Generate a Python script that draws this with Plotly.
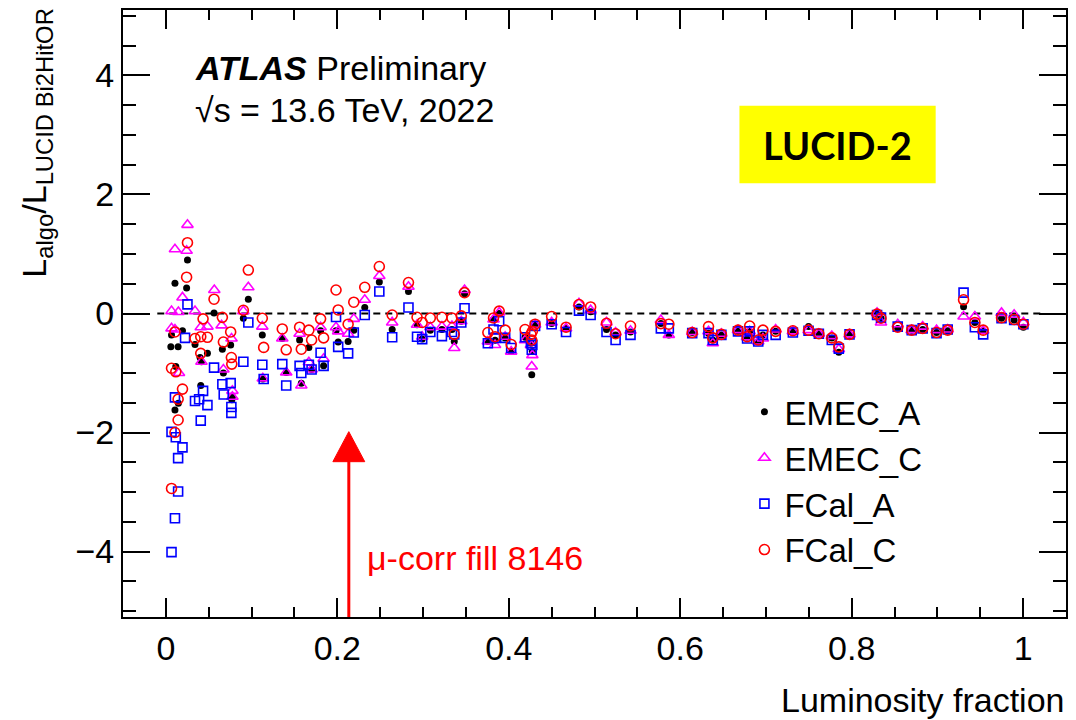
import plotly.graph_objects as go

# ---------------- data ----------------
# early part (luminosity fraction < 0.12), read per series
emec_a_x_low = [0.0252, 0.0106, 0.0242, 0.0066, 0.0058, 0.0143, 0.0194, 0.0340, 0.0485, 0.0399, 0.0562, 0.0659,
                0.0756, 0.0904, 0.0962, 0.1125, 0.0116, 0.0407, 0.0146, 0.0106, 0.0769, 0.0671, 0.0776, 0.1131, 0.0415]
emec_a_y_low = [0.90, 0.51, 0.43, -0.36, -0.56, -0.56, -0.29, -0.52, -0.67, -0.74, 0.01, -0.60,
                -0.53, -0.08, 0.24, -0.36, -0.89, -1.21, -1.51, -1.62, -1.45, -1.00, -1.40, -1.10, -0.81]

emec_c_x_low = [0.0252, 0.0106, 0.0242, 0.0194, 0.0066, 0.0146, 0.0340, 0.0066, 0.0106, 0.0407, 0.0485, 0.0565,
                0.0650, 0.0766, 0.0962, 0.0904, 0.1125, 0.0415, 0.0671, 0.0153, 0.0776, 0.0776, 0.1131]
emec_c_y_low = [1.49, 1.08, 1.055, 0.27, 0.04, 0.025, 0.04, -0.25, -0.27, -0.23, -0.22, 0.395,
                -0.20, -0.42, 0.44, 0.04, -0.22, -0.81, -0.94, -1.00, -1.30, -1.40, -1.09]

fcal_a_x_low = [0.0252, 0.0224, 0.0106, 0.0340, 0.0388, 0.0434, 0.0485, 0.0407, 0.0562, 0.0659, 0.0756, 0.0675,
                0.0764, 0.0764, 0.0904, 0.0962, 0.1125, 0.1141, 0.0066, 0.0116, 0.0194, 0.0143, 0.0143, 0.0106, 0.0066]
fcal_a_y_low = [0.154, -0.41, -1.41, -1.47, -1.44, -1.30, -1.54, -1.80, -0.91, -1.19, -1.17, -1.36,
                -1.57, -1.67, -0.81, -0.15, -0.86, -1.10, -1.99, -2.08, -2.25, -2.43, -2.99, -3.44, -4.01]

fcal_c_x_low = [0.0252, 0.0242, 0.0106, 0.0066, 0.0116, 0.0194, 0.0143, 0.0143, 0.0106, 0.0066, 0.0340, 0.0407,
                0.0485, 0.0434, 0.0562, 0.0659, 0.0671, 0.0756, 0.0764, 0.0769, 0.0407, 0.0962, 0.0904, 0.1125, 0.1141]
fcal_c_y_low = [1.19, 0.61, -0.31, -0.92, -0.98, -1.27, -1.44, -1.79, -2.00, -2.94, -0.42, -0.39,
                -0.40, -0.09, 0.24, -0.065, -0.48, -0.31, -0.74, -0.85, -0.67, 0.73, 0.055, -0.08, -0.57]

# later runs (shared luminosity fraction per run)
run_x = [0.1358, 0.1404, 0.1560, 0.1580, 0.1668, 0.1700, 0.1805, 0.1840, 0.1985, 0.2010,
         0.2126, 0.2192, 0.2320, 0.2490, 0.2640, 0.2830, 0.2930, 0.2990, 0.3085, 0.3220,
         0.3337, 0.3364, 0.3446, 0.3484, 0.3756, 0.3822, 0.3840, 0.3888, 0.3958, 0.4028,
         0.4190, 0.4258, 0.4268, 0.4275, 0.4307, 0.4500, 0.4668, 0.4819, 0.4955, 0.5140,
         0.5246, 0.5420, 0.5774, 0.5867, 0.6140, 0.6330, 0.6380, 0.6480, 0.6674, 0.6780,
         0.6810, 0.6910, 0.6965, 0.7113, 0.7314, 0.7497, 0.7617, 0.7768, 0.7850, 0.7975,
         0.8296, 0.8342, 0.8537, 0.8700, 0.8828, 0.8990, 0.9120, 0.9305, 0.9437, 0.9534,
         0.9748, 0.9895, 1.0003]
emec_a_run = [-0.42, -0.99, -0.445, -1.17, -0.57, -0.94, -0.29, -0.88, -0.29, -0.48,
              -0.47, -0.28, 0.10, 0.53, -0.27, 0.37, -0.19, -0.43, -0.28, -0.27,
              -0.27, -0.47, -0.13, 0.33, -0.47, -0.10, -0.45, 0.00, -0.41, -0.64,
              -0.40, -0.50, -1.03, -0.64, -0.19, -0.17, -0.25, 0.11, 0.028, -0.27,
              -0.36, -0.31, -0.17, -0.36, -0.32, -0.33, -0.445, -0.36, -0.30, -0.40,
              -0.30, -0.47, -0.36, -0.30, -0.30, -0.22, -0.34, -0.41, -0.65, -0.35,
              -0.01, -0.08, -0.25, -0.28, -0.27, -0.32, -0.29, 0.115, -0.15, -0.29,
              -0.08, -0.11, -0.23]
emec_c_run = [-0.42, -0.99, -0.34, -1.21, -0.82, -0.94, -0.23, -0.76, -0.23, -0.30,
              -0.34, -0.09, 0.23, 0.63, -0.15, 0.45, -0.19, -0.39, -0.23, -0.22,
              -0.21, -0.58, -0.13, 0.395, -0.47, -0.10, -0.53, 0.016, -0.39, -0.64,
              -0.45, -0.53, -0.89, -0.70, -0.19, -0.15, -0.25, 0.17, 0.056, -0.15,
              -0.32, -0.29, -0.11, -0.36, -0.31, -0.30, -0.50, -0.34, -0.28, -0.40,
              -0.30, -0.47, -0.42, -0.27, -0.30, -0.28, -0.34, -0.38, -0.60, -0.35,
              0.01, -0.15, -0.18, -0.28, -0.22, -0.28, -0.27, -0.05, -0.05, -0.29,
              0.01, -0.02, -0.15]
fcal_a_run = [-0.85, -1.21, -0.88, -1.00, -0.86, -0.94, -0.66, -0.88, -0.06, -0.56,
              -0.67, -0.32, -0.025, 0.37, -0.40, 0.10, -0.39, -0.43, -0.31, -0.38,
              -0.31, -0.35, -0.15, 0.087, -0.50, -0.27, -0.41, -0.13, -0.41, -0.58,
              -0.40, -0.50, -0.61, -0.53, -0.21, -0.18, -0.31, 0.048, -0.026, -0.31,
              -0.445, -0.36, -0.25, -0.25, -0.33, -0.33, -0.445, -0.36, -0.30, -0.42,
              -0.30, -0.47, -0.36, -0.36, -0.32, -0.29, -0.34, -0.445, -0.59, -0.35,
              -0.025, -0.07, -0.22, -0.28, -0.25, -0.33, -0.27, 0.35, -0.23, -0.35,
              -0.08, -0.11, -0.18]
fcal_c_run = [-0.26, -0.61, -0.23, -0.60, -0.28, -0.445, -0.09, -0.41, 0.395, 0.06,
              -0.18, 0.19, 0.44, 0.79, -0.025, 0.52, -0.064, -0.15, -0.075, -0.064,
              -0.075, -0.35, -0.04, 0.35, -0.32, -0.075, -0.39, 0.04, -0.28, -0.52,
              -0.27, -0.35, -0.445, -0.30, -0.18, -0.05, -0.23, 0.15, 0.11, -0.165,
              -0.34, -0.21, -0.17, -0.18, -0.32, -0.22, -0.41, -0.35, -0.28, -0.39,
              -0.21, -0.445, -0.28, -0.30, -0.29, -0.28, -0.34, -0.41, -0.56, -0.35,
              -0.01, -0.08, -0.23, -0.28, -0.25, -0.32, -0.28, 0.23, -0.15, -0.28,
              -0.07, -0.10, -0.18]

series_names = ["EMEC_A", "EMEC_C", "FCal_A", "FCal_C"]
x_ticks = [0, 0.2, 0.4, 0.6, 0.8, 1]
y_ticks = [-4, -2, 0, 2, 4]

# ---------------- figure ----------------
FONT = "Liberation Sans, Arial, Helvetica, sans-serif"
fig = go.Figure()

styles = [
    dict(symbol="circle", size=7, color="black", line=dict(width=0)),
    dict(symbol="triangle-up-open", size=10, color="#ff00ff", line=dict(width=1.6)),
    dict(symbol="square-open", size=9, color="#0000ff", line=dict(width=1.6)),
    dict(symbol="circle-open", size=10, color="#ff0000", line=dict(width=1.6)),
]
xs = [emec_a_x_low + run_x, emec_c_x_low + run_x, fcal_a_x_low + run_x, fcal_c_x_low + run_x]
ys = [emec_a_y_low + emec_a_run, emec_c_y_low + emec_c_run, fcal_a_y_low + fcal_a_run, fcal_c_y_low + fcal_c_run]

for name, st, x, y in zip(series_names, styles, xs, ys):
    fig.add_trace(go.Scatter(x=x, y=y, mode="markers", name=name, marker=st, cliponaxis=True))

# reference dashed line at 0
fig.add_shape(type="line", xref="x", yref="y", x0=-0.01, x1=1.025, y0=0, y1=0,
              line=dict(color="black", width=2, dash="7px,5px"), layer="below")

# arrow for mu-correction fill
arrow_x = 0.2134
fig.add_shape(type="line", xref="x", yref="y", x0=arrow_x, x1=arrow_x, y0=-5.1, y1=-2.45,
              line=dict(color="#ff0000", width=3))
fig.add_shape(type="path", xref="x", yref="y",
              path=f"M {arrow_x-0.0186},-2.49 L {arrow_x+0.0186},-2.49 L {arrow_x},-1.985 Z",
              fillcolor="#ff0000", line=dict(color="#ff0000", width=1))
fig.add_annotation(x=0.2325, y=-4.11, xref="x", yref="y", text="μ-corr fill 8146", showarrow=False,
                   xanchor="left", yanchor="middle", font=dict(family=FONT, size=34, color="#ff0000"))

# ATLAS label
fig.add_annotation(x=0.0738, y=0.9044, xref="paper", yref="paper",
                   text="<b><i>ATLAS</i></b> Preliminary", showarrow=False,
                   xanchor="left", yanchor="middle", font=dict(family=FONT, size=34, color="black"))
fig.add_annotation(x=0.0738, y=0.835, xref="paper", yref="paper",
                   text="√s = 13.6 TeV, 2022", showarrow=False,
                   xanchor="left", yanchor="middle", font=dict(family=FONT, size=34, color="black"))

# LUCID-2 box
fig.add_shape(type="rect", xref="paper", yref="paper", x0=0.6537, x1=0.8618, y0=0.7145, y1=0.8424,
              fillcolor="#ffff00", line=dict(width=0))
fig.add_annotation(x=0.7578, y=0.7784, xref="paper", yref="paper", text="<b>LUCID-2</b>", showarrow=False,
                   xanchor="center", yanchor="middle", font=dict(family="Lato, Open Sans, sans-serif", size=38, color="black"))

# axis titles
fig.add_annotation(x=1.0, y=-0.1367, xref="paper", yref="paper", text="Luminosity fraction", showarrow=False,
                   xanchor="right", yanchor="middle", font=dict(family=FONT, size=34, color="black"))
fig.add_annotation(x=-0.0915, y=0.781, xref="paper", yref="paper",
                   text="L<sub>algo</sub>/L<sub>LUCID Bi2HitOR</sub>", showarrow=False, textangle=-90,
                   xanchor="center", yanchor="middle", font=dict(family=FONT, size=34, color="black"))

axis_common = dict(showgrid=False, zeroline=False, showline=True, linecolor="black", linewidth=2,
                   mirror="ticks", ticks="inside", tickcolor="black", tickwidth=1.5,
                   tickfont=dict(family=FONT, size=34, color="black"))
fig.update_xaxes(range=[-0.05, 1.05], tickvals=x_ticks, ticktext=["0", "0.2", "0.4", "0.6", "0.8", "1"],
                 ticklen=19, minor=dict(dtick=0.05, tick0=0, ticks="inside", ticklen=10, tickcolor="black", tickwidth=1.5),
                 **axis_common)
fig.update_yaxes(range=[-5.1, 5.1], tickvals=y_ticks, ticktext=["−4", "−2", "0", "2", "4"],
                 ticklen=27, minor=dict(dtick=0.5, tick0=0, ticks="inside", ticklen=13, tickcolor="black", tickwidth=1.5),
                 **axis_common)

fig.update_layout(
    width=1076, height=720,
    margin=dict(l=123, r=8, t=10, b=103),
    paper_bgcolor="white", plot_bgcolor="white",
    showlegend=True,
    legend=dict(x=0.659, y=0.384, xanchor="left", yanchor="top", bgcolor="rgba(0,0,0,0)",
                font=dict(family=FONT, size=33, color="black"), itemsizing="trace", tracegroupgap=0),
)

fig.write_html("out.html")
